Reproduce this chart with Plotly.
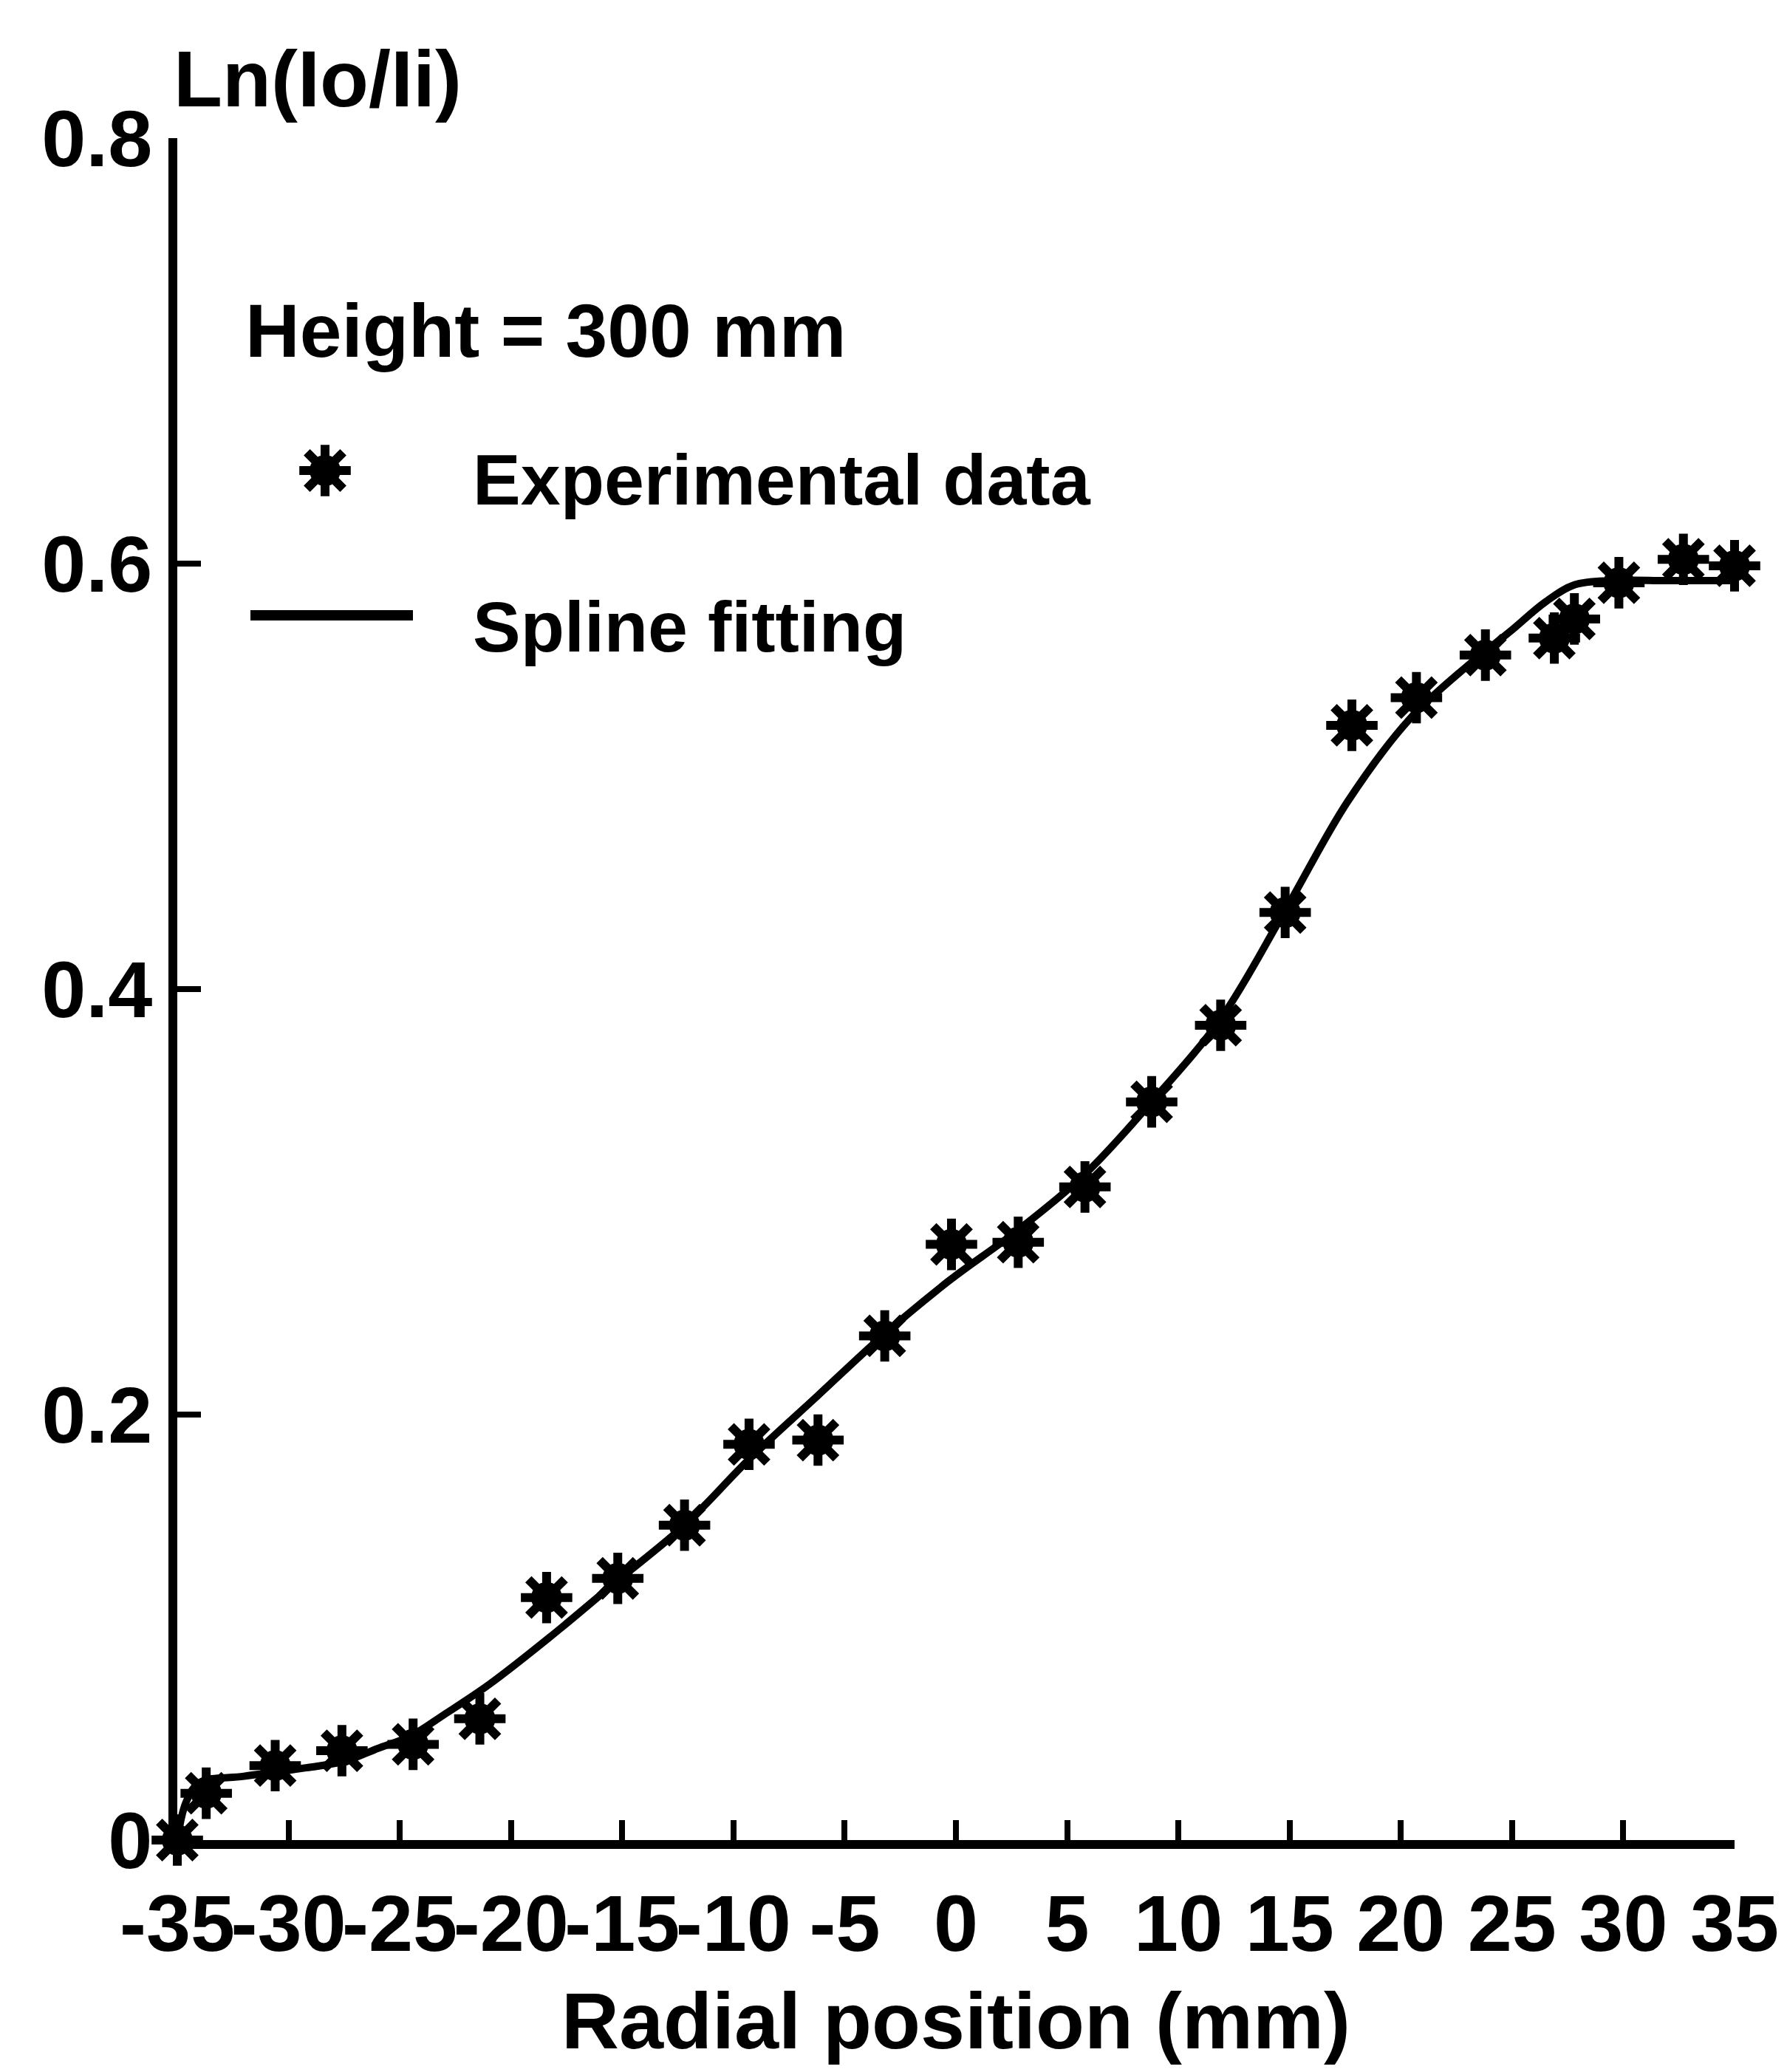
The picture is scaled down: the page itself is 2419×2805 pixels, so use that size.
import plotly.graph_objects as go

# ---------------- data ----------------
exp_x = [-35.0, -33.7, -30.6, -27.6, -24.4, -21.4, -18.4, -15.2, -12.2, -9.3,
         -6.2, -3.2, -0.2, 2.8, 5.8, 8.8, 11.9, 14.8, 17.8, 20.7,
         23.8, 26.9, 27.8, 29.8, 32.7, 35.0]
exp_y = [0.000, 0.022, 0.035, 0.042, 0.045, 0.057, 0.114, 0.123, 0.148, 0.186,
         0.188, 0.237, 0.280, 0.281, 0.307, 0.347, 0.383, 0.436, 0.524, 0.537,
         0.557, 0.565, 0.574, 0.591, 0.602, 0.599]

fit_x = [-35.0, -34.6, -34.0, -32.0, -29.2, -27.5, -26.0, -24.5, -23.0, -21.0,
         -18.3, -15.2, -12.2, -9.2, -6.2, -3.3, -0.3, 2.7, 5.8, 8.8,
         11.9, 14.8, 17.6, 20.4, 23.0, 24.9, 26.5, 27.8, 29.5, 32.0, 35.0]
fit_y = [0.000, 0.018, 0.027, 0.030, 0.034, 0.037, 0.043, 0.049, 0.059, 0.073,
         0.095, 0.122, 0.148, 0.180, 0.209, 0.237, 0.263, 0.286, 0.313, 0.347,
         0.386, 0.437, 0.488, 0.527, 0.552, 0.568, 0.582, 0.590, 0.592, 0.592, 0.592]

x_tick_vals = [-35, -30, -25, -20, -15, -10, -5, 0, 5, 10, 15, 20, 25, 30, 35]
x_tick_text = ["-35", "-30", "-25", "-20", "-15", "-10", "-5", "0",
               "5", "10", "15", "20", "25", "30", "35"]
y_tick_vals = [0, 0.2, 0.4, 0.6, 0.8]
y_tick_text = ["0", "0.2", "0.4", "0.6", "0.8"]

label_exp = "Experimental data"
label_fit = "Spline fitting"
label_height = "Height = 300 mm"
x_title = "Radial position (mm)"
y_title = "Ln(Io/Ii)"

# ---------------- layout geometry ----------------
W, H = 2419, 2805
ML, MR, MT, MB = 232, 79, 179, 322
PW, PH = W - ML - MR, H - MT - MB


def px(xp):
    return (xp - ML) / PW


def py(yp):
    return (H - MB - yp) / PH


FONT = "Liberation Sans, Arial, Helvetica, sans-serif"
INK = "#000000"
STAR_SIZE = 58
STAR_LINE = 12
CORE_SIZE = 42

fig = go.Figure()

# spline fitting curve
fig.add_trace(go.Scatter(
    x=fit_x, y=fit_y, mode="lines", name=label_fit,
    line=dict(color=INK, width=10, shape="spline", smoothing=1.0),
    cliponaxis=False, showlegend=False, hoverinfo="skip"))

# experimental points: filled core + eight-armed asterisk
fig.add_trace(go.Scatter(
    x=exp_x, y=exp_y, mode="markers", name=label_exp,
    marker=dict(symbol="circle", size=CORE_SIZE, color=INK, line=dict(width=0)),
    cliponaxis=False, showlegend=False, hoverinfo="skip"))
fig.add_trace(go.Scatter(
    x=exp_x, y=exp_y, mode="markers", name=label_exp,
    marker=dict(symbol="asterisk", size=STAR_SIZE, color=INK,
                line=dict(color=INK, width=STAR_LINE)),
    cliponaxis=False, showlegend=False))

# legend key (drawn manually on an overlay axis spanning the plot area)
key_x = [px(432)]
key_y = [py(629)]
fig.add_trace(go.Scatter(
    x=key_x, y=key_y, mode="markers", xaxis="x2", yaxis="y2",
    marker=dict(symbol="circle", size=CORE_SIZE, color=INK, line=dict(width=0)),
    cliponaxis=False, showlegend=False, hoverinfo="skip"))
fig.add_trace(go.Scatter(
    x=key_x, y=key_y, mode="markers", xaxis="x2", yaxis="y2",
    marker=dict(symbol="asterisk", size=STAR_SIZE, color=INK,
                line=dict(color=INK, width=STAR_LINE)),
    cliponaxis=False, showlegend=False, hoverinfo="skip"))

axis_common = dict(
    showline=True, linecolor=INK, linewidth=12,
    ticks="inside", tickcolor=INK, tickwidth=8,
    showgrid=False, zeroline=False,
    tickfont=dict(family=FONT, size=108, color=INK, weight="bold"),
)

fig.update_layout(
    width=W, height=H,
    margin=dict(l=ML, r=MR, t=MT, b=MB, autoexpand=False),
    paper_bgcolor="white", plot_bgcolor="white",
    showlegend=False,
    font=dict(family=FONT, color=INK),
    xaxis=dict(range=[-35, 35], tickmode="array", tickvals=x_tick_vals,
               ticktext=x_tick_text, ticklen=27, ticklabelstandoff=8,
               tickangle=0,
               title=dict(text=x_title, standoff=40,
                          font=dict(family=FONT, size=108, color=INK, weight="bold")),
               automargin=False, **axis_common),
    yaxis=dict(range=[0, 0.8], tickmode="array", tickvals=y_tick_vals,
               ticktext=y_tick_text, ticklen=32, ticklabelstandoff=0,
               automargin=False, **axis_common),
    xaxis2=dict(range=[0, 1], overlaying="x", visible=False, fixedrange=True),
    yaxis2=dict(range=[0, 1], overlaying="y", visible=False, fixedrange=True),
)

# legend line sample
fig.add_shape(type="line", xref="paper", yref="paper",
              x0=px(331), x1=px(551), y0=py(825), y1=py(825),
              line=dict(color=INK, width=14))

fig.add_annotation(text=label_height, xref="paper", yref="paper",
                   x=px(322), y=py(440), xanchor="left", yanchor="middle",
                   showarrow=False,
                   font=dict(family=FONT, size=102, color=INK, weight="bold"))
text_font = dict(family=FONT, size=97, color=INK, weight="bold")
fig.add_annotation(text=label_exp, xref="paper", yref="paper",
                   x=px(630), y=py(641), xanchor="left", yanchor="middle",
                   showarrow=False, font=text_font)
fig.add_annotation(text=label_fit, xref="paper", yref="paper",
                   x=px(630), y=py(840), xanchor="left", yanchor="middle",
                   showarrow=False, font=text_font)
fig.add_annotation(text=y_title, xref="paper", yref="paper",
                   x=px(225), y=py(98), xanchor="left", yanchor="middle",
                   showarrow=False,
                   font=dict(family=FONT, size=108, color=INK, weight="bold"))

fig.write_html("out.html")
